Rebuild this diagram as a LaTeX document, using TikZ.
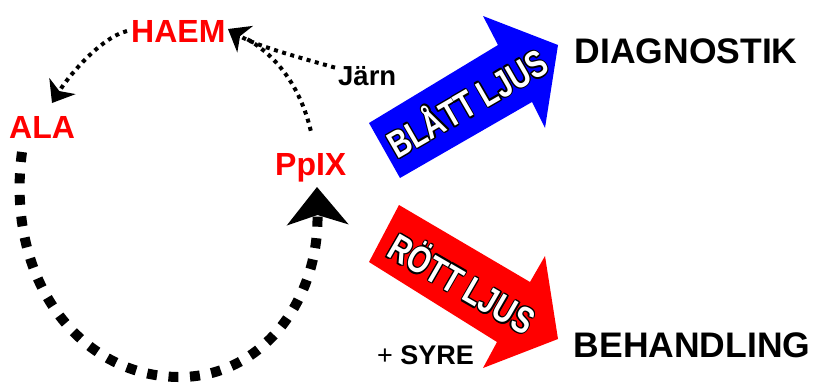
\documentclass[tikz,border=0pt]{standalone}
\usepackage{fontspec}
\setmainfont{Liberation Sans}
\usepackage{graphicx}
\usetikzlibrary{arrows.meta}

% black ring of copies behind white text
\newcommand\ringcopy[3]{\rlap{\kern#1\raisebox{#2}{\color{black}#3}}}
\newcommand\outlined[1]{%
  \ringcopy{1.2pt}{0pt}{#1}\ringcopy{-1.2pt}{0pt}{#1}%
  \ringcopy{0pt}{1.2pt}{#1}\ringcopy{0pt}{-1.2pt}{#1}%
  \ringcopy{.85pt}{.85pt}{#1}\ringcopy{-.85pt}{.85pt}{#1}%
  \ringcopy{.85pt}{-.85pt}{#1}\ringcopy{-.85pt}{-.85pt}{#1}%
  #1}

\begin{document}
\begin{tikzpicture}[x=1pt,y=-1pt,
  lbl/.style={anchor=base west, inner sep=0pt, font=\fontsize{32}{38}\selectfont\bfseries},
  molecule/.style={lbl, text=red},
  goal/.style={lbl, font=\fontsize{35.5}{42}\selectfont\bfseries},
  beamtext/.style={inner sep=0pt, text=white, font=\fontsize{29}{34}\selectfont\bfseries},
  thickdots/.style={line width=10pt, dash pattern=on 10pt off 11.5pt},
  thindots/.style={line width=4pt, dash pattern=on 4pt off 4.5pt},
  bigtip/.style={-{Stealth[length=38pt,width=62pt,inset=10pt,line width=0pt]}},
  smalltip/.style={-{Stealth[length=20pt,width=31pt,inset=6pt,line width=0pt]}},
]
\useasboundingbox (0,0) rectangle (816,383);

% labels
\node[molecule] (haem) at (131,42) {HAEM};
\node[molecule] (ala) at (9,138) {ALA};
\node[molecule] (ppix) at (275,175) {PpIX};
\node[lbl, font=\fontsize{27.5}{33}\selectfont\bfseries] (jarn) at (338,85) {Järn};
\node[goal] (diag) at (574.5,63) {DIAGNOSTIK};
\node[goal] (beh) at (573.5,357) {BEHANDLING};
\node[lbl, font=\fontsize{27}{32}\selectfont] (syre) at (377,364) {+ \textbf{SYRE}};

% light beams
\fill[blue] (400,178) -- (369,123) -- (498,45) -- (483,16) -- (558,45)
  -- (545,128) -- (532,102) -- cycle;
\fill[red] (399,205) -- (369,262) -- (497,342) -- (483,368) -- (558,339)
  -- (545,256) -- (530,282) -- cycle;
\node[beamtext, rotate=30] (blue) at (466,101) {\scalebox{1}[1.3]{\outlined{BLÅTT LJUS}}};
\node[beamtext, rotate=-30] (red) at (463,282) {\scalebox{1}[1.3]{\outlined{RÖTT LJUS}}};

% connector end points
\coordinate (alaTip) at (52,103);
\coordinate (alaOut) at (22,152);
\coordinate (haemTip) at (228,29);
\coordinate (haemJoin) at (247,39);
\coordinate (ppixTip) at (317,187);

% cycle
\draw[thickdots, bigtip] (alaOut) .. controls (5,280) and (80,376) .. (178,377)
  .. controls (262,378) and (319,300) .. (ppixTip);
\draw[thindots, smalltip] ([xshift=-4pt]haem.west) .. controls (100,38) and (68,77) .. (alaTip);
\draw[thindots, smalltip] ([xshift=-3pt,yshift=8pt]jarn.west) .. controls (290,55) and (255,45) .. (haemTip);
\draw[thindots] ([yshift=22pt]ppix.north) .. controls (300,85) and (275,55) .. (haemJoin);
\end{tikzpicture}
\end{document}
